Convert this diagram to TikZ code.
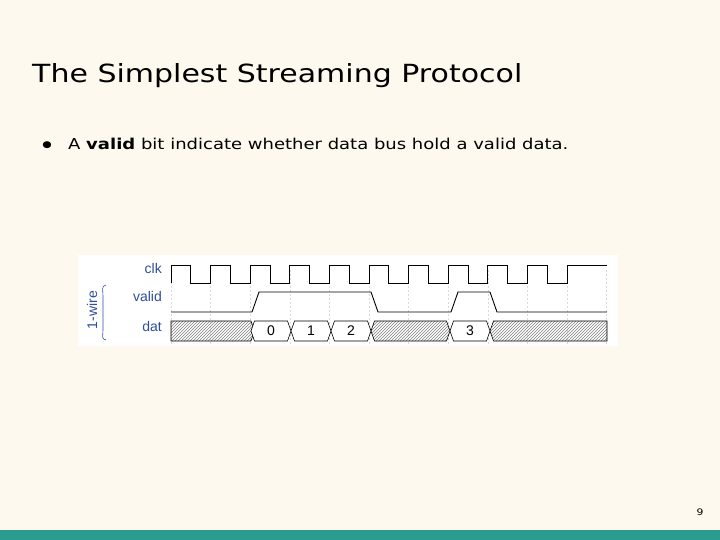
\documentclass[tikz,border=0pt]{standalone}
\usepackage{fontspec}
\setmainfont[FakeStretch=1.2]{DejaVu Sans}
\newfontfamily\arialf{Liberation Sans}
\usetikzlibrary{patterns,decorations.pathreplacing}
\definecolor{bg}{HTML}{FDF9EE}
\definecolor{teal}{HTML}{2A9D8F}
\definecolor{lblue}{HTML}{2E4E9A}
\tikzset{x=1pt,y=-1pt,
 wave/.style={line width=0.9pt,black},
 grid/.style={gray!30,dash pattern=on 2pt off 2pt,line width=0.4pt},
 lbl/.style={anchor=east,font=\arialf\fontsize{14}{14}\selectfont,text=lblue,inner sep=0},
 hatch/.style={draw=black,line width=0.6pt,pattern=north east lines,pattern color=gray},
 dbox/.style={draw=black,line width=0.6pt,fill=white}}
\begin{document}
\begin{tikzpicture}
\fill[bg] (0,0) rectangle (720,540);
\fill[teal] (0,530) rectangle (720,540);
\node[anchor=base west,inner sep=0,font=\fontsize{25}{25}\selectfont] (title) at (32,83) {The Simplest Streaming Protocol};
\node[inner sep=0,font=\fontsize{9}{9}\selectfont] (bul) at (47,145) {●};
\node[anchor=base west,inner sep=0,font=\fontsize{15}{15}\selectfont] (txt) at (68,150) {A \textbf{valid} bit indicate whether data bus hold a valid data.};
\node[anchor=base,inner sep=0,font=\fontsize{9}{9}\selectfont] (pg) at (700,515) {9};
\fill[white] (78,255) rectangle (618,346);
% grid
\foreach \i in {0,...,11} \draw[grid] ({171+39.6*\i},270) -- ({171+39.6*\i},345);
% labels
\node[lbl] (lclk) at (162,268) {clk};
\node[lbl] (lval) at (162,296) {valid};
\node[lbl] (ldat) at (162,326) {dat};
\node[lbl,anchor=center,rotate=90] (lw) at (92,310) {1-wire};
\draw[lblue,line width=0.6pt] (106,285) .. controls (101,286) and (103,290) .. (103,296) -- (103,330) .. controls (103,336) and (101,339) .. (106,340);
% clock
\draw[wave] (171,283) -- (171,265)
 \foreach \i in {0,...,9} { -- ({171+39.6*\i+19.8},265) -- ({171+39.6*\i+19.8},283) -- ({171+39.6*(\i+1)},283) -- ({171+39.6*(\i+1)},265) } -- (607,265);
% valid
\draw[wave] (171,312) -- (252,312) -- (259,292) -- (371,292) -- (378,312) -- (451,312) -- (458,292) -- (490,292) -- (497,312) -- (607,312);
% dat
\draw[hatch] (171,321) -- (251,321) -- (254.5,331) -- (251,341) -- (171,341) -- cycle;
\foreach \a/\b/\t in {251/291/0,291/331/1,331/371/2,450/490/3}{
 \draw[dbox] (\a,331) -- (\a+3.5,321) -- (\b-3.5,321) -- (\b,331) -- (\b-3.5,341) -- (\a+3.5,341) -- cycle;
 \node[font=\arialf\fontsize{14}{14}\selectfont,inner sep=0] (d\t) at ({(\a+\b)/2},331) {\t};
}
\draw[hatch] (371,331) -- (374.5,321) -- (446.5,321) -- (450,331) -- (446.5,341) -- (374.5,341) -- cycle;
\draw[hatch] (490,331) -- (493.5,321) -- (607,321) -- (607,341) -- (493.5,341) -- cycle;
\end{tikzpicture}
\end{document}
